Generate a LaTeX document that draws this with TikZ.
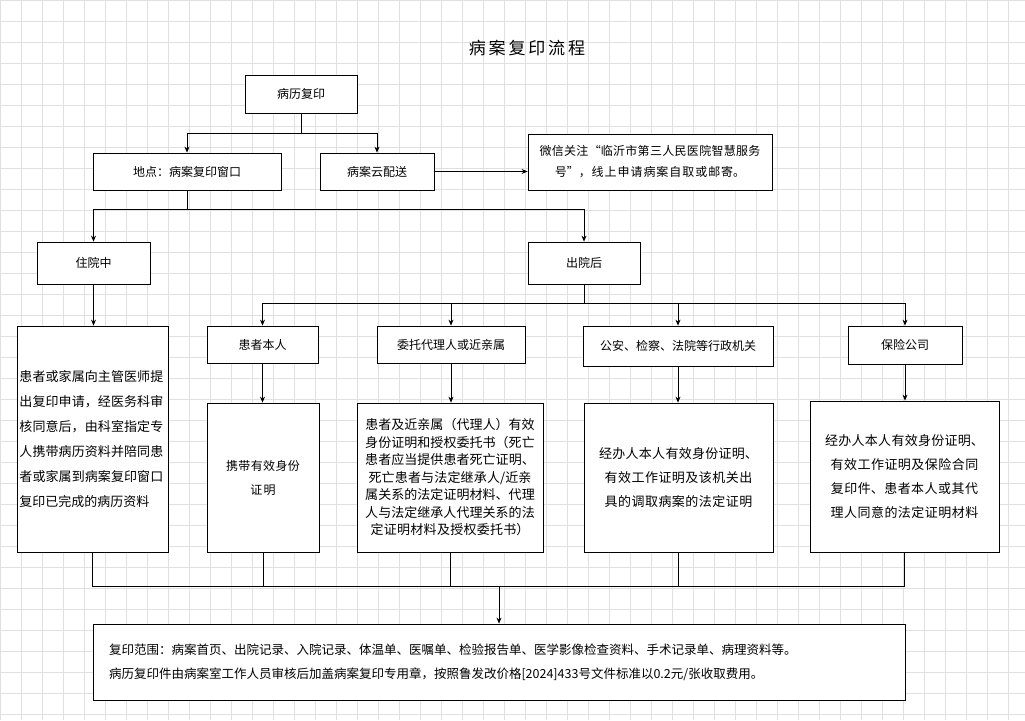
\documentclass[tikz,border=0pt]{standalone}
\usepackage{fontspec}
\setmainfont{Noto Sans CJK SC}
\XeTeXlinebreaklocale "zh"
\XeTeXlinebreakskip=0pt plus 1pt
\usetikzlibrary{arrows.meta,positioning,calc}

\tikzset{
  box/.style={draw, line width=0.8pt, fill=white, align=center, font=\fontsize{12}{17}\selectfont, inner sep=2pt},
  link/.style={line width=0.7pt},
  arr/.style={link, -{Stealth[length=6pt,width=5pt]}},
}

\begin{document}
\begin{tikzpicture}[x=1pt,y=-1pt]
    \useasboundingbox (0,0) rectangle (1025,720);
    % grid
    \foreach \g in {0,21,...,1025} \draw[black!12, line width=0.4pt] (\g,0) -- (\g,720);
    \foreach \g in {0,21,...,720} \draw[black!12, line width=0.4pt] (0,\g) -- (1025,\g);

    \node[font=\fontsize{17}{19}\selectfont] (title) at (527,48) {病\,案\,复\,印\,流\,程};

    % top row
    \node[box, minimum width=112, minimum height=38] (copy) at (301,94) {病历复印};
    \node[box, minimum width=188, minimum height=37] (window) at (187,171.5) {地点：病案复印窗口};
    \node[box, minimum width=114, minimum height=37] (cloud) at (377,171.5) {病案云配送};
    \node[box, minimum width=244, minimum height=56, text width=236, font=\fontsize{12}{21}\selectfont] (wechat) at (650,162) {微信关注“临沂市第三人民医院智慧服务\\号”，线上申请病案自取或邮寄。};

    % second row
    \node[box, minimum width=113, minimum height=42] (inpat) at (93.5,263) {住院中};
    \node[box, minimum width=112, minimum height=42] (outpat) at (584,263) {出院后};

    % third row
    \node[box, minimum width=151, minimum height=226, text width=146, align=left, font=\fontsize{13}{25}\selectfont] (inbox) at (92.5,439) {患者或家属向主管医师提出复印申请，经医务科审核同意后，由科室指定专人携带病历资料并陪同患者或家属到病案复印窗口复印已完成的病历资料};
    \node[box, minimum width=111, minimum height=37] (self) at (262.5,344.5) {患者本人};
    \node[box, minimum width=148, minimum height=37] (agent) at (451,344.5) {委托代理人或近亲属};
    \node[box, minimum width=190, minimum height=40] (police) at (678,346) {公安、检察、法院等行政机关};
    \node[box, minimum width=114, minimum height=38] (insur) at (905,345) {保险公司};

    % fourth row
    \node[box, minimum width=112, minimum height=149, text width=90, font=\fontsize{12}{24}\selectfont] (selfdoc) at (263,477.5) {携带有效身份\\证明};
    \node[box, minimum width=186, minimum height=149, text width=172, font=\fontsize{13}{17.5}\selectfont] (agentdoc) at (450,477.5) {患者及近亲属（代理人）有效身份证明和授权委托书（死亡患者应当提供患者死亡证明、死亡患者与法定继承人/近亲属关系的法定证明材料、代理人与法定继承人代理关系的法定证明材料及授权委托书）};
    \node[box, minimum width=189, minimum height=149, text width=172, font=\fontsize{13}{24}\selectfont] (policedoc) at (678.5,477.5) {经办人本人有效身份证明、有效工作证明及该机关出具的调取病案的法定证明};
    \node[box, minimum width=189, minimum height=151, text width=172, font=\fontsize{13}{24}\selectfont] (insurdoc) at (904.5,476.5) {经办人本人有效身份证明、有效工作证明及保险合同复印件、患者本人或其代理人同意的法定证明材料};

    % bottom
    \node[box, minimum width=812, minimum height=76, text width=780, align=left, font=\fontsize{12.5}{24}\selectfont] (scope) at (499,662) {复印范围：病案首页、出院记录、入院记录、体温单、医嘱单、检验报告单、医学影像检查资料、手术记录单、病理资料等。\\病历复印件由病案室工作人员审核后加盖病案复印专用章，按照鲁发改价格[2024]433号文件标准以0.2元/张收取费用。};

    % connectors
    \draw[link] (copy.south) -- ++(0,20) coordinate (c1);
    \draw[arr] (c1) -| (window.north);
    \draw[arr] (c1) -| (cloud.north);
    \draw[arr] (cloud.east) -- (wechat.west |- cloud.east);

    \draw[link] (window.south) -- ++(0,19) coordinate (c2);
    \draw[arr] (c2) -| (inpat.north);
    \draw[arr] (c2) -| (outpat.north);
    \draw[arr] (inpat.south) -- (inbox.north -| inpat.south);

    \draw[link] (outpat.south) -- ++(0,19) coordinate (c3);
    \foreach \t in {self,agent,police,insur}
        \draw[arr] (c3) -| (\t.north);
    \draw[arr] (self.south) -- (selfdoc.north -| self.south);
    \draw[arr] (agent.south) -- (agentdoc.north -| agent.south);
    \draw[arr] (police.south) -- (policedoc.north -| police.south);
    \draw[arr] (insur.south) -- (insurdoc.north -| insur.south);

    \coordinate (c4) at (499,586);
    \draw[link] (inbox.south) |- (c4);
    \draw[link] (insurdoc.south) |- (c4);
    \draw[link] (selfdoc.south) -- (selfdoc.south |- c4);
    \draw[link] (agentdoc.south) -- (agentdoc.south |- c4);
    \draw[link] (policedoc.south) -- (policedoc.south |- c4);
    \draw[arr] (c4) -- (scope.north);
\end{tikzpicture}
\end{document}
